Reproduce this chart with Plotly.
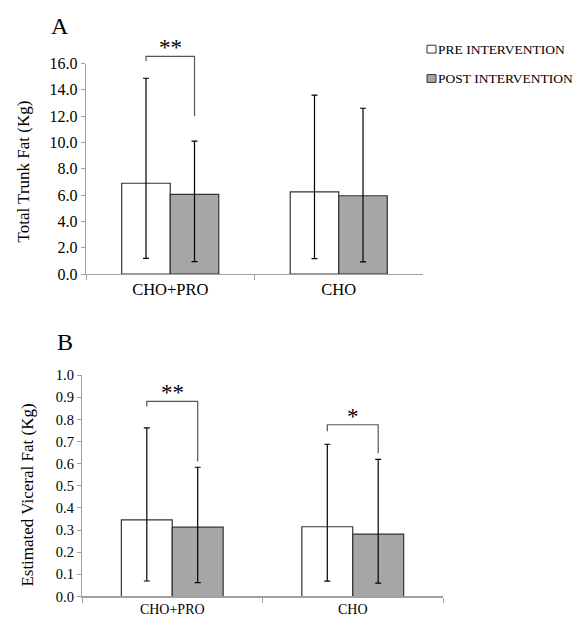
import plotly.graph_objects as go

# ---------------- data ----------------
groups = ["CHO+PRO", "CHO"]
series_names = ["PRE INTERVENTION", "POST INTERVENTION"]

# Panel A: Total Trunk Fat (Kg)
trunk_pre = [6.9, 6.25]
trunk_post = [6.05, 5.95]
trunk_pre_err_plus = [7.98, 7.35]
trunk_pre_err_minus = [5.71, 5.08]
trunk_post_err_plus = [4.05, 6.65]
trunk_post_err_minus = [5.11, 5.03]

# Panel B: Estimated Visceral Fat (Kg)
visc_pre = [0.346, 0.315]
visc_post = [0.313, 0.282]
visc_pre_err_plus = [0.416, 0.373]
visc_pre_err_minus = [0.276, 0.246]
visc_post_err_plus = [0.271, 0.338]
visc_post_err_minus = [0.250, 0.222]

# significance brackets: group index, label, top, left-leg end, right-leg end
trunk_sig_group = [0]
trunk_sig_label = ["**"]
trunk_sig_top = [16.55]
trunk_sig_left_end = [16.2]
trunk_sig_right_end = [12.0]

visc_sig_group = [0, 1]
visc_sig_label = ["**", "*"]
visc_sig_top = [0.882, 0.776]
visc_sig_left_end = [0.859, 0.747]
visc_sig_right_end = [0.61, 0.647]

# ---------------- style ----------------
W, H = 582, 625
VS = 1 / 0.9935     # small compensation for the vertical squeeze of the photograph
FONT = "Liberation Serif, Times New Roman, serif"
PRE_FILL = "#ffffff"
POST_FILL = "#a6a6a6"
EDGE = "#333333"
AXIS = "#a0a0a0"
BRACKET = "#555555"

def px_x(p):
    return p / W

def px_y(p):
    return max(0.0, 1 - p * VS / H)

top_dom_x = [px_x(86), px_x(423)]
top_dom_y = [px_y(271.7), px_y(56.7)]
bot_dom_x = [px_x(82), px_x(443)]
bot_dom_y = [px_y(601), px_y(375)]

TOP_GAP = 0.424
BOT_GAP = 0.436

fig = go.Figure()

def add_bars(pre, post, pep, pem, qep, qem, xa, ya, gap):
    bw = (1 - gap) / 2
    for k, (name, vals, ep, em, fill) in enumerate([
        (series_names[0], pre, pep, pem, PRE_FILL),
        (series_names[1], post, qep, qem, POST_FILL),
    ]):
        fig.add_trace(go.Bar(
            x=groups, y=vals, name=name, xaxis=xa, yaxis=ya,
            width=bw, offset=-bw if k == 0 else 0,
            marker=dict(color=fill, line=dict(color=EDGE, width=1.2)),
            error_y=dict(type="data", symmetric=False, array=ep, arrayminus=em,
                         color="#000000", thickness=1.2, width=3),
            showlegend=False, hoverinfo="y",
        ))

add_bars(trunk_pre, trunk_post, trunk_pre_err_plus, trunk_pre_err_minus,
         trunk_post_err_plus, trunk_post_err_minus, "x", "y", TOP_GAP)
add_bars(visc_pre, visc_post, visc_pre_err_plus, visc_pre_err_minus,
         visc_post_err_plus, visc_post_err_minus, "x2", "y2", BOT_GAP)

shapes = []
annotations = []

def add_brackets(gidx, labels, tops, lends, rends, gap, ymax, xa, yref_dom, star_size, star_dy):
    off = (1 - gap) / 4.0
    for g, lab, t, le, re in zip(gidx, labels, tops, lends, rends):
        xl, xr = g - off, g + off
        path = (f"M{xl},{le / ymax} L{xl},{t / ymax} L{xr},{t / ymax} L{xr},{re / ymax}")
        shapes.append(dict(type="path", path=path, xref=xa, yref=yref_dom,
                           line=dict(color=BRACKET, width=1.2)))
        annotations.append(dict(x=g, y=t / ymax, xref=xa, yref=yref_dom, text=lab,
                                showarrow=False, yanchor="bottom", yshift=star_dy,
                                font=dict(family=FONT, size=star_size, color="#000")))

add_brackets(trunk_sig_group, trunk_sig_label, trunk_sig_top, trunk_sig_left_end,
             trunk_sig_right_end, TOP_GAP, 16.0, "x", "y domain", 23, -6)
add_brackets(visc_sig_group, visc_sig_label, visc_sig_top, visc_sig_left_end,
             visc_sig_right_end, BOT_GAP, 1.0, "x2", "y2 domain", 23, -6)

# panel letters
annotations.append(dict(x=px_x(60), y=px_y(18), xref="paper", yref="paper", text="A",
                        xanchor="center", yanchor="middle",
                        showarrow=False, font=dict(family=FONT, size=24, color="#000")))
annotations.append(dict(x=px_x(65), y=px_y(341), xref="paper", yref="paper", text="B",
                        xanchor="center", yanchor="middle",
                        showarrow=False, font=dict(family=FONT, size=24, color="#000")))

# y axis titles
annotations.append(dict(x=px_x(24), y=px_y(167), xref="paper", yref="paper",
                        xanchor="center", yanchor="middle",
                        text="Total Trunk Fat (Kg)", textangle=-90, showarrow=False,
                        font=dict(family=FONT, size=17, color="#000")))
annotations.append(dict(x=px_x(28), y=px_y(498), xref="paper", yref="paper",
                        xanchor="center", yanchor="middle",
                        text="Estimated Viceral Fat (Kg)", textangle=-90, showarrow=False,
                        font=dict(family=FONT, size=17, color="#000")))

# legend (manual)
for i, (name, fill) in enumerate(zip(series_names, [PRE_FILL, POST_FILL])):
    cy = 42 + 30 * i
    shapes.append(dict(type="rect", xref="paper", yref="paper",
                       x0=px_x(427), x1=px_x(436), y0=px_y(cy + 4), y1=px_y(cy - 4),
                       fillcolor=fill, line=dict(color=EDGE, width=1)))
    annotations.append(dict(x=px_x(436), y=px_y(cy), xref="paper", yref="paper",
                            text=name, showarrow=False, xanchor="left", yanchor="middle",
                            font=dict(family=FONT, size=13.5, color="#000")))

common_x = dict(type="category", showline=True, linecolor=AXIS, linewidth=1.2,
                ticks="outside", tickson="boundaries", tickcolor=AXIS, ticklen=5,
                showgrid=False, zeroline=False, range=[-0.5, 1.5], fixedrange=True)
common_y = dict(showline=True, linecolor=AXIS, linewidth=1.2, ticks="outside",
                tickcolor=AXIS, ticklen=4, showgrid=False, zeroline=False,
                tickformat=".1f", fixedrange=True)

fig.update_layout(
    width=W, height=H, autosize=False,
    margin=dict(l=0, r=0, t=0, b=0),
    paper_bgcolor="#ffffff", plot_bgcolor="#ffffff",
    barmode="group",
    showlegend=False,
    xaxis=dict(common_x, domain=top_dom_x, anchor="y",
               tickfont=dict(family=FONT, size=16.5, color="#000")),
    yaxis=dict(common_y, domain=top_dom_y, anchor="x", range=[0, 16], dtick=2,
               tickfont=dict(family=FONT, size=16, color="#000")),
    xaxis2=dict(common_x, domain=bot_dom_x, anchor="y2",
                tickfont=dict(family=FONT, size=14, color="#000")),
    yaxis2=dict(common_y, domain=bot_dom_y, anchor="x2", range=[0, 1.0], dtick=0.1,
                tickfont=dict(family=FONT, size=14.5, color="#000")),
    shapes=shapes,
    annotations=annotations,
)

fig.write_html(
    "out.html",
    config={"displayModeBar": False, "staticPlot": True},
    post_script=(
        "var s=document.documentElement.style;s.margin='0';s.padding='0';"
        "s.height='625px';s.overflow='hidden';"
        "var b=document.body.style;b.margin='0';b.padding='0';"
        "b.height='625px';b.overflow='hidden';"
    ),
)
